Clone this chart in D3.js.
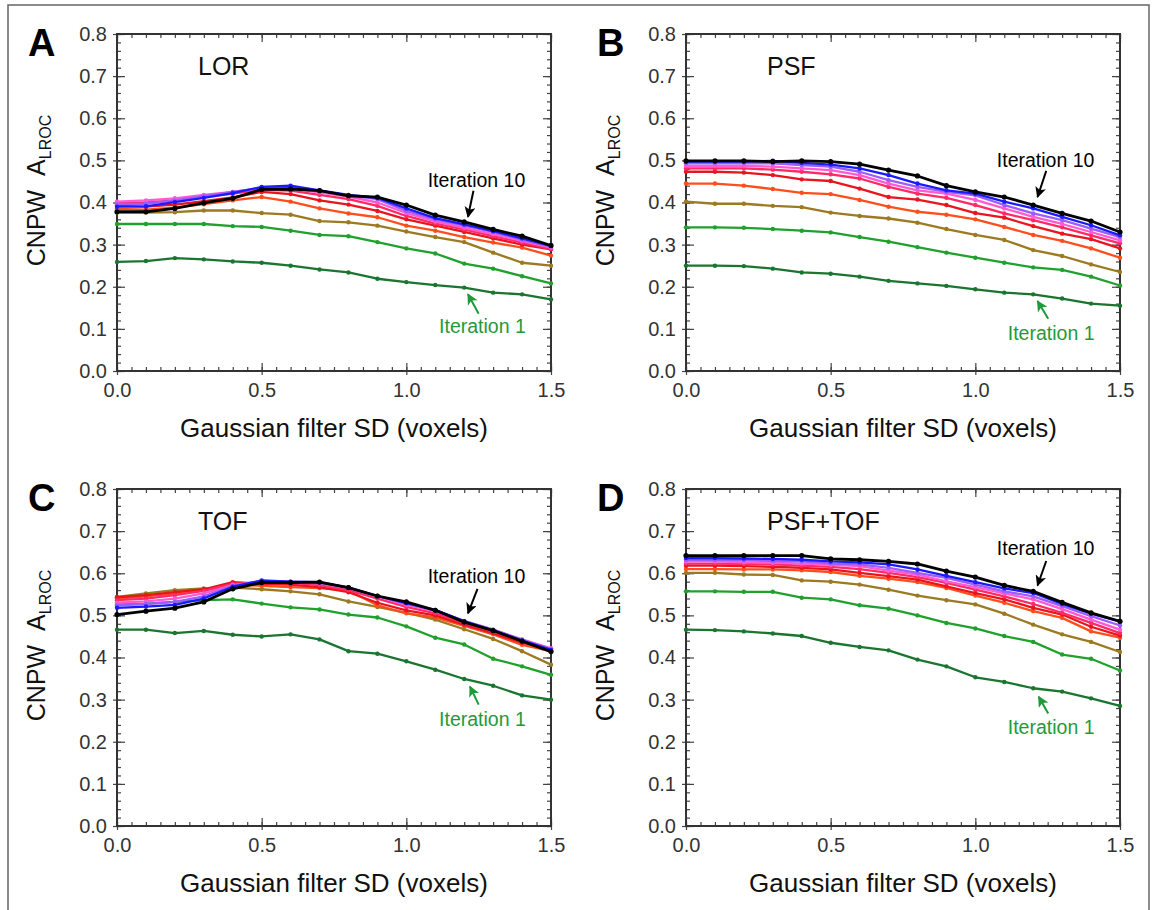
<!DOCTYPE html>
<html>
<head>
<meta charset="utf-8">
<script src="https://cdn.jsdelivr.net/npm/d3@7/dist/d3.min.js"></script>
<style>
  body { margin: 0; background: #fff; }
  svg { display: block; }
  text { font-family: "Liberation Sans", Arial, Helvetica, sans-serif; }
</style>
</head>
<body>
<svg id="fig" width="1152" height="910"></svg>
<script>
// ---------------- DATA ----------------
const filterSD = [0.0, 0.1, 0.2, 0.3, 0.4, 0.5, 0.6, 0.7, 0.8, 0.9, 1.0, 1.1, 1.2, 1.3, 1.4, 1.5];
const iterations = [1, 2, 3, 4, 5, 6, 7, 8, 9, 10];
const xTickValues = [0.0, 0.5, 1.0, 1.5];
const yTickValues = [0.0, 0.1, 0.2, 0.3, 0.4, 0.5, 0.6, 0.7, 0.8];
const panelLetters = ["A", "B", "C", "D"];
const methodNames = ["LOR", "PSF", "TOF", "PSF+TOF"];
const xTitle = "Gaussian filter SD (voxels)";

// CNPW A_LROC for iterations 1..10 (rows) vs filter SD (columns)
const lorAUC = [
  [0.259,0.261,0.268,0.265,0.260,0.257,0.250,0.241,0.234,0.219,0.211,0.204,0.198,0.186,0.182,0.170],
  [0.349,0.349,0.349,0.349,0.344,0.342,0.333,0.323,0.320,0.306,0.291,0.279,0.255,0.243,0.225,0.208],
  [0.376,0.376,0.377,0.381,0.381,0.375,0.371,0.356,0.353,0.345,0.331,0.318,0.306,0.281,0.257,0.250],
  [0.385,0.383,0.388,0.396,0.405,0.413,0.402,0.386,0.374,0.365,0.345,0.333,0.318,0.305,0.293,0.274],
  [0.392,0.390,0.395,0.403,0.412,0.425,0.420,0.405,0.395,0.380,0.360,0.345,0.330,0.315,0.300,0.289],
  [0.398,0.400,0.405,0.413,0.421,0.430,0.428,0.418,0.408,0.392,0.368,0.350,0.336,0.320,0.305,0.290],
  [0.402,0.405,0.410,0.418,0.425,0.434,0.433,0.424,0.414,0.400,0.375,0.355,0.340,0.325,0.309,0.293],
  [0.396,0.397,0.405,0.415,0.425,0.435,0.437,0.427,0.417,0.408,0.380,0.360,0.345,0.330,0.312,0.295],
  [0.390,0.391,0.401,0.411,0.422,0.437,0.440,0.429,0.418,0.411,0.386,0.363,0.348,0.332,0.315,0.297],
  [0.378,0.378,0.386,0.399,0.410,0.431,0.432,0.428,0.416,0.413,0.394,0.370,0.354,0.336,0.320,0.298]
];
const psfAUC = [
  [0.250,0.250,0.249,0.243,0.234,0.231,0.224,0.214,0.208,0.202,0.194,0.186,0.182,0.172,0.160,0.155],
  [0.341,0.341,0.340,0.337,0.333,0.329,0.318,0.307,0.294,0.281,0.269,0.257,0.246,0.240,0.224,0.203],
  [0.402,0.397,0.397,0.392,0.389,0.376,0.368,0.362,0.352,0.337,0.323,0.311,0.287,0.273,0.253,0.235],
  [0.445,0.445,0.440,0.432,0.423,0.420,0.406,0.390,0.378,0.371,0.360,0.342,0.323,0.309,0.291,0.269],
  [0.473,0.473,0.471,0.465,0.455,0.451,0.433,0.413,0.407,0.394,0.375,0.364,0.344,0.326,0.313,0.291],
  [0.481,0.481,0.481,0.478,0.473,0.467,0.457,0.437,0.421,0.411,0.394,0.374,0.358,0.341,0.322,0.303],
  [0.487,0.487,0.487,0.485,0.481,0.477,0.465,0.445,0.429,0.421,0.406,0.386,0.366,0.349,0.330,0.310],
  [0.493,0.493,0.493,0.493,0.489,0.485,0.473,0.453,0.437,0.425,0.417,0.394,0.374,0.358,0.338,0.318],
  [0.497,0.497,0.497,0.499,0.494,0.490,0.481,0.465,0.445,0.429,0.421,0.402,0.386,0.366,0.346,0.322],
  [0.499,0.499,0.499,0.497,0.499,0.497,0.491,0.477,0.463,0.440,0.425,0.413,0.394,0.374,0.356,0.330]
];
const tofAUC = [
  [0.466,0.466,0.458,0.463,0.454,0.450,0.455,0.443,0.415,0.409,0.391,0.371,0.349,0.333,0.310,0.300],
  [0.526,0.528,0.532,0.536,0.538,0.528,0.519,0.514,0.502,0.495,0.474,0.447,0.431,0.397,0.379,0.359],
  [0.544,0.552,0.560,0.564,0.566,0.562,0.557,0.550,0.533,0.520,0.506,0.490,0.467,0.444,0.415,0.383],
  [0.540,0.545,0.552,0.560,0.575,0.570,0.567,0.565,0.559,0.524,0.505,0.495,0.475,0.455,0.430,0.415],
  [0.543,0.548,0.555,0.562,0.579,0.575,0.573,0.567,0.555,0.530,0.512,0.500,0.478,0.458,0.435,0.418],
  [0.536,0.540,0.548,0.558,0.575,0.578,0.577,0.572,0.560,0.540,0.520,0.505,0.482,0.462,0.440,0.420],
  [0.530,0.533,0.540,0.552,0.572,0.580,0.579,0.576,0.565,0.545,0.525,0.510,0.486,0.466,0.443,0.422],
  [0.524,0.527,0.532,0.545,0.570,0.582,0.580,0.578,0.566,0.546,0.528,0.512,0.487,0.466,0.442,0.420],
  [0.518,0.521,0.525,0.540,0.568,0.583,0.580,0.579,0.566,0.546,0.529,0.513,0.486,0.464,0.440,0.418],
  [0.502,0.510,0.517,0.532,0.563,0.578,0.578,0.579,0.566,0.546,0.532,0.512,0.484,0.464,0.439,0.414]
];
const psfTofAUC = [
  [0.466,0.465,0.462,0.457,0.451,0.435,0.425,0.417,0.395,0.379,0.353,0.342,0.327,0.319,0.303,0.285],
  [0.557,0.557,0.556,0.556,0.542,0.538,0.524,0.516,0.500,0.482,0.469,0.451,0.437,0.407,0.397,0.369],
  [0.601,0.601,0.597,0.596,0.583,0.580,0.573,0.561,0.547,0.536,0.526,0.504,0.478,0.455,0.437,0.413],
  [0.610,0.610,0.609,0.609,0.607,0.603,0.594,0.587,0.579,0.565,0.547,0.530,0.510,0.494,0.462,0.447],
  [0.618,0.618,0.617,0.615,0.613,0.609,0.601,0.593,0.585,0.569,0.553,0.538,0.518,0.502,0.473,0.452],
  [0.623,0.623,0.622,0.621,0.618,0.615,0.610,0.601,0.591,0.577,0.561,0.545,0.527,0.506,0.482,0.458],
  [0.628,0.628,0.626,0.625,0.623,0.620,0.617,0.606,0.597,0.581,0.567,0.552,0.538,0.515,0.490,0.466],
  [0.632,0.632,0.631,0.629,0.628,0.623,0.621,0.613,0.601,0.589,0.573,0.557,0.545,0.522,0.498,0.476],
  [0.636,0.636,0.635,0.634,0.632,0.628,0.626,0.621,0.609,0.594,0.579,0.564,0.553,0.527,0.504,0.485],
  [0.642,0.642,0.642,0.642,0.642,0.634,0.632,0.628,0.622,0.605,0.591,0.571,0.557,0.531,0.506,0.486]
];

// ---------------- STYLE ----------------
const lineColors = ["#1a7530", "#20a02c", "#9c7a22", "#ff4d1c", "#e8141e",
                    "#ff2a66", "#ff5ad2", "#9c5cff", "#1a1aff", "#000000"];
const iter10Color = "#000000";
const iter1Color = "#1f9a3a";

const panels = [
  { letter: panelLetters[0], name: methodNames[0], data: lorAUC, left: 117, top: 34,
    a10: { tx: 1.2425, ty: 0.437, x1: 1.232, y1: 0.428, x2: 1.213, y2: 0.366 },
    a1:  { tx: 1.263,  ty: 0.090, x1: 1.250, y1: 0.136, x2: 1.213, y2: 0.182 } },
  { letter: panelLetters[1], name: methodNames[1], data: psfAUC, left: 686, top: 34,
    a10: { tx: 1.243, ty: 0.484, x1: 1.245, y1: 0.475, x2: 1.215, y2: 0.413 },
    a1:  { tx: 1.262, ty: 0.074, x1: 1.252, y1: 0.124, x2: 1.215, y2: 0.166 } },
  { letter: panelLetters[2], name: methodNames[2], data: tofAUC, left: 117, top: 489,
    a10: { tx: 1.2425, ty: 0.576, x1: 1.246, y1: 0.563, x2: 1.213, y2: 0.505 },
    a1:  { tx: 1.263,  ty: 0.238, x1: 1.250, y1: 0.288, x2: 1.220, y2: 0.331 } },
  { letter: panelLetters[3], name: methodNames[3], data: psfTofAUC, left: 686, top: 489,
    a10: { tx: 1.243, ty: 0.643, x1: 1.245, y1: 0.629, x2: 1.215, y2: 0.571 },
    a1:  { tx: 1.262, ty: 0.219, x1: 1.252, y1: 0.267, x2: 1.219, y2: 0.307 } }
];

const W = 434, H = 337;
const svg = d3.select("#fig");

// outer border
svg.append("rect").attr("x", 8).attr("y", 5).attr("width", 1141).attr("height", 930)
  .attr("fill", "none").attr("stroke", "#666").attr("stroke-width", 1.5);

// arrow markers
const defs = svg.append("defs");
[["arrBlack", iter10Color], ["arrGreen", iter1Color]].forEach(([id, c]) => {
  defs.append("marker").attr("id", id).attr("viewBox", "0 0 10 10")
    .attr("refX", 9).attr("refY", 5).attr("markerWidth", 13).attr("markerHeight", 11)
    .attr("markerUnits", "userSpaceOnUse").attr("orient", "auto")
    .append("path").attr("d", "M0,0 L10,5 L0,10 L2.5,5 Z").attr("fill", c);
});

panels.forEach(p => {
  const g = svg.append("g").attr("transform", `translate(${p.left},${p.top})`);
  const x = d3.scaleLinear().domain([0, 1.5]).range([0, W]);
  const y = d3.scaleLinear().domain([0, 0.8]).range([H, 0]);

  const minorX = d3.range(0, 31).map(i => i * 0.05);
  const minorY = d3.range(0, 41).map(i => i * 0.02);

  // minor ticks (inward), all four sides
  g.append("g").attr("transform", `translate(0,${H})`)
    .call(d3.axisBottom(x).tickValues(minorX).tickSize(-4).tickFormat(""));
  g.append("g").call(d3.axisTop(x).tickValues(minorX).tickSize(-4).tickFormat(""));
  g.append("g").call(d3.axisLeft(y).tickValues(minorY).tickSize(-4).tickFormat(""));
  g.append("g").attr("transform", `translate(${W},0)`)
    .call(d3.axisRight(y).tickValues(minorY).tickSize(-4).tickFormat(""));

  // major ticks with labels
  const xb = g.append("g").attr("transform", `translate(0,${H})`)
    .call(d3.axisBottom(x).tickValues(xTickValues).tickSize(-8).tickPadding(12).tickFormat(d3.format(".1f")));
  xb.selectAll(".tick line").attr("y1", 4);
  const yl = g.append("g")
    .call(d3.axisLeft(y).tickValues(yTickValues).tickSize(-8).tickPadding(10).tickFormat(d3.format(".1f")));
  yl.selectAll(".tick line").attr("x1", -4);
  g.append("g").call(d3.axisTop(x).tickValues(xTickValues).tickSize(-8).tickFormat(""));
  g.append("g").attr("transform", `translate(${W},0)`)
    .call(d3.axisRight(y).tickValues(yTickValues).tickSize(-8).tickFormat(""));

  g.selectAll(".domain").remove();
  g.selectAll(".tick line").attr("stroke", "#444").attr("stroke-width", 1.2);
  g.selectAll(".tick text").attr("font-size", 20).attr("fill", "#333")
    .attr("font-family", "\"Liberation Sans\", Arial, sans-serif");

  // frame
  g.append("rect").attr("width", W).attr("height", H)
    .attr("fill", "none").attr("stroke", "#333").attr("stroke-width", 2);

  // series
  const line = d3.line().x((d, i) => x(filterSD[i])).y(d => y(d));
  iterations.forEach((it, k) => {
    const vals = p.data[k];
    const col = lineColors[k];
    g.append("path").datum(vals).attr("d", line)
      .attr("fill", "none").attr("stroke", col)
      .attr("stroke-width", it === 10 ? 2.8 : 2.3)
      .attr("stroke-linejoin", "round");
    g.append("g").selectAll("circle").data(vals).join("circle")
      .attr("cx", (d, i) => x(filterSD[i])).attr("cy", d => y(d))
      .attr("r", it === 10 ? 2.6 : 2.2).attr("fill", col);
  });

  // method label
  g.append("text").attr("x", x(0.28)).attr("y", y(0.703))
    .attr("font-size", 25).attr("fill", "#111").text(p.name);

  // annotations
  g.append("text").attr("x", x(p.a10.tx)).attr("y", y(p.a10.ty))
    .attr("text-anchor", "middle").attr("font-size", 19.5).attr("fill", iter10Color)
    .text("Iteration 10");
  g.append("line").attr("x1", x(p.a10.x1)).attr("y1", y(p.a10.y1))
    .attr("x2", x(p.a10.x2)).attr("y2", y(p.a10.y2))
    .attr("stroke", iter10Color).attr("stroke-width", 2).attr("marker-end", "url(#arrBlack)");
  g.append("text").attr("x", x(p.a1.tx)).attr("y", y(p.a1.ty))
    .attr("text-anchor", "middle").attr("font-size", 19.5).attr("fill", iter1Color)
    .text("Iteration 1");
  g.append("line").attr("x1", x(p.a1.x1)).attr("y1", y(p.a1.y1))
    .attr("x2", x(p.a1.x2)).attr("y2", y(p.a1.y2))
    .attr("stroke", iter1Color).attr("stroke-width", 2).attr("marker-end", "url(#arrGreen)");

  // x title
  g.append("text").attr("x", W / 2).attr("y", H + 66)
    .attr("text-anchor", "middle").attr("font-size", 26).attr("fill", "#111").text(xTitle);

  // y title
  const yt = g.append("text").attr("transform", `translate(-72,${H / 2 - 12}) rotate(-90)`)
    .attr("text-anchor", "middle").attr("font-size", 25).attr("fill", "#111");
  yt.append("tspan").text("CNPW\u00A0\u00A0A");
  yt.append("tspan").attr("font-size", 16).attr("dy", 6).text("LROC");

  // panel letter
  g.append("text").attr("x", -89).attr("y", 22)
    .attr("font-size", 38).attr("font-weight", "bold").attr("fill", "#000").text(p.letter);
});
</script>
</body>
</html>
